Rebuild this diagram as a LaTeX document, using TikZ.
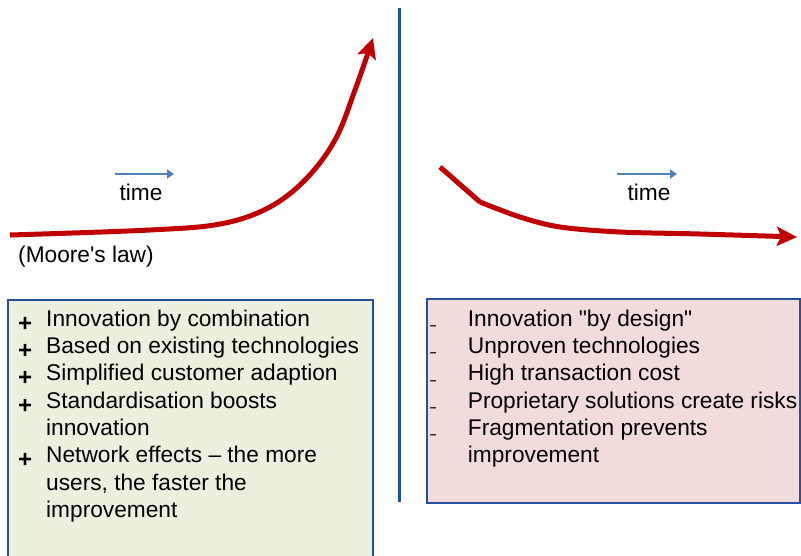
\documentclass[tikz,border=0pt]{standalone}
\usepackage{fontspec}
\setmainfont{Liberation Sans}
\usetikzlibrary{matrix, arrows.meta}
\definecolor{trendred}{HTML}{C00000}
\definecolor{timeblue}{HTML}{4F81BD}
\definecolor{boxblue}{HTML}{24519A}
\definecolor{dividerblue}{HTML}{1B52A2}
\definecolor{profill}{HTML}{EBF1DE}
\definecolor{confill}{HTML}{F2DCDB}
\newcommand{\plusmark}{\raisebox{-5pt}{\fontsize{24}{24}\selectfont\bfseries +}}
\newcommand{\dashmark}{\raisebox{-3.3pt}{\fontsize{12}{12}\selectfont\bfseries\textendash}}

\begin{document}
\begin{tikzpicture}[x=1pt, y=-1pt, font=\fontsize{22.7}{27.3}\selectfont,
    trend/.style={line width=5pt, trendred, line join=miter, -{Stealth[length=20pt, width=19pt, inset=4pt]}},
    timearrow/.style={line width=2.5pt, timeblue, -{Triangle[length=7pt, width=9pt]}},
    listbox/.style={draw=boxblue, line width=2pt, anchor=north west, inner sep=0pt},
    listrows/.style={matrix of nodes, nodes in empty cells, row sep=0pt, anchor=north west, inner sep=0pt, ampersand replacement=\&,
        cells={nodes={inner sep=0pt, text height=19.1pt, text depth=8.2pt}},
        column 1/.style={nodes={anchor=center}}, column 2/.style={nodes={anchor=west}}}]
    \useasboundingbox (0,0) rectangle (801,555);

    % Draw the two boxes
    \node[listbox, fill=profill, minimum width=365pt, minimum height=270pt] (leftbox) at (7,299) {};
    \node[listbox, fill=confill, minimum width=373pt, minimum height=204pt] (rightbox) at (426,298) {};

    % Lists inside the boxes
    \matrix (pros) [listrows, column sep=13pt, column 1/.append style={nodes={minimum width=16pt}}] at ([xshift=10pt, yshift=-7.9pt]leftbox.north west) {
    \plusmark \& Innovation by combination \\
    \plusmark \& Based on existing technologies \\
    \plusmark \& Simplified customer adaption \\
    \plusmark \& Standardisation boosts \\
    {} \& innovation \\
    \plusmark \& Network effects – the more \\
    {} \& users, the faster the \\
    {} \& improvement \\
    };
    \matrix (cons) [listrows, column sep=28.7pt, column 1/.append style={nodes={minimum width=12pt}}] at ([xshift=1pt, yshift=-8.9pt]rightbox.north west) {
    \dashmark \& Innovation \textquotedbl by design\textquotedbl \\
    \dashmark \& Unproven technologies \\
    \dashmark \& High transaction cost \\
    \dashmark \& Proprietary solutions create risks \\
    \dashmark \& Fragmentation prevents \\
    {} \& improvement \\
    };

    % Draw the dividing line
    \coordinate (divtop) at (399,8);
    \coordinate (divbottom) at (399,502);
    \draw[dividerblue, line width=3pt] (divtop) -- (divbottom);

    % Time arrows and labels
    \coordinate (lefttimestart) at (115,174);
    \coordinate (lefttimeend) at (174,174);
    \coordinate (righttimestart) at (617,174);
    \coordinate (righttimeend) at (677,174);
    \draw[timearrow] (lefttimestart) -- (lefttimeend);
    \draw[timearrow] (righttimestart) -- (righttimeend);
    \node[anchor=base, inner sep=0pt] (lefttime) at (141,200) {time};
    \node[anchor=base, inner sep=0pt] (righttime) at (649,200) {time};
    \node[anchor=base west, inner sep=0pt] (moore) at (18,262) {(Moore\textquotesingle s law)};

    % Draw the red curves
    \coordinate (growstart) at (10,235);
    \coordinate (growtip) at (373,38);
    \draw[trend] plot[smooth, tension=0.6] coordinates {(growstart) (150,230) (220,224) (268,208) (305,180) (335,140) (355,90) (growtip)};
    \coordinate (fallstart) at (440,167);
    \coordinate (fallknee) at (480,202);
    \coordinate (falltip) at (797,237);
    \draw[trend] (fallstart) -- (fallknee) plot[smooth, tension=0.55] coordinates {(fallknee) (520,217) (560,227) (620,232) (700,234) (falltip)};
\end{tikzpicture}
\end{document}
